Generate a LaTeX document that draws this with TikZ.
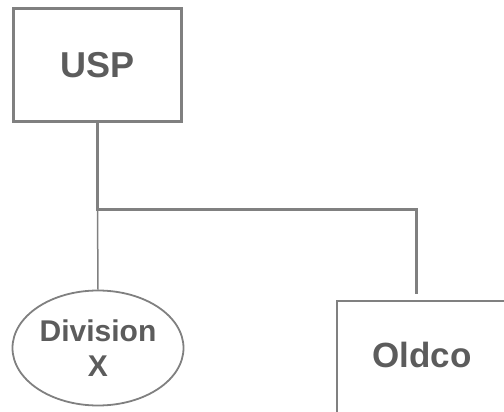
\documentclass[tikz,border=0pt]{standalone}
\usepackage{fontspec}
\setmainfont{Liberation Sans}
\usetikzlibrary{shapes.geometric,positioning,calc}
\definecolor{linegray}{RGB}{128,128,128}
\definecolor{textgray}{RGB}{92,92,92}

\begin{document}
\begin{tikzpicture}[x=1pt, y=-1pt]
    \useasboundingbox (0,0) rectangle (504,412);
    \node[draw=linegray, line width=3pt, rectangle, inner sep=0pt, minimum width=168pt, minimum height=113pt, text=textgray, font=\fontsize{36}{40}\selectfont\bfseries] (usp) at (97.5,65) {USP};
    \node[draw=linegray, line width=1.8pt, ellipse, inner sep=0pt, minimum width=171pt, minimum height=115pt, text=textgray, align=center, font=\fontsize{30}{35}\selectfont\bfseries] (divx) at (98,348) {Division\\X};
    \node[draw=linegray, line width=2pt, rectangle, inner sep=0pt, minimum width=170pt, minimum height=124pt, text depth=17pt, text=textgray, font=\fontsize{35}{40}\selectfont\bfseries] (oldco) at (422,363) {Oldco};

    \coordinate (split) at (97.5,209);
    \coordinate (drop) at (416,209);
    \draw[linegray, line width=3pt, shorten >=6pt] (usp.south) -- (split) -- (drop) -- (drop |- oldco.north);
    \draw[linegray, line width=1.5pt] (split) -- (divx.north);
\end{tikzpicture}
\end{document}
